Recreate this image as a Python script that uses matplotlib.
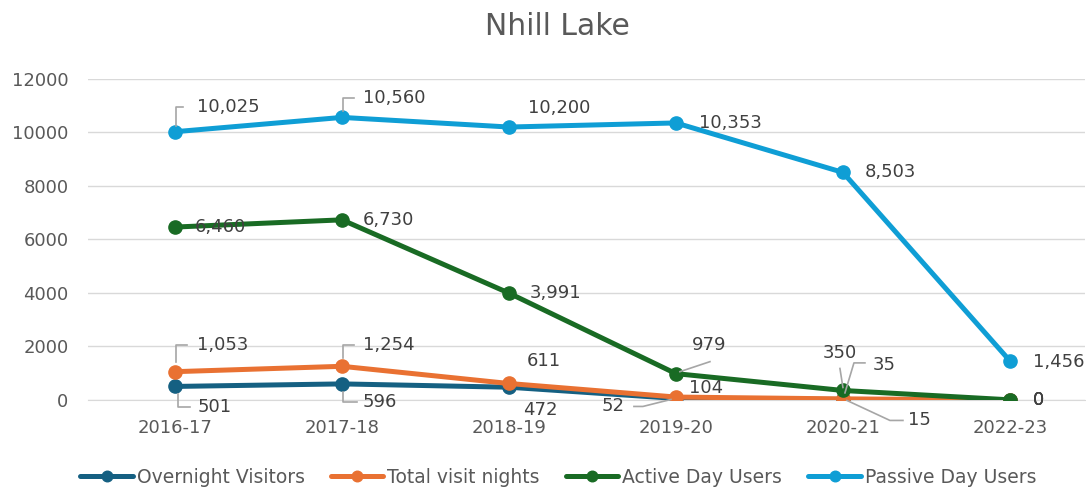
import matplotlib.pyplot as plt
import numpy as np

# chart data
years = ['2016-17', '2017-18', '2018-19', '2019-20', '2020-21', '2022-23']
overnight = [501, 596, 472, 52, 15, 0]
nights = [1053, 1254, 611, 104, 35, 0]
active = [6460, 6730, 3991, 979, 350, 0]
passive = [10025, 10560, 10200, 10353, 8503, 1456]

names = ['Overnight Visitors', 'Total visit nights', 'Active Day Users', 'Passive Day Users']
colors = ['#156082', '#E97132', '#196B24', '#0F9ED5']
series = [overnight, nights, active, passive]

# label placement in pixels from the point: (dx, dy, ha)
label_pos = {
    0: [(23, -21, 'left'), (21, -18, 'left'), (14, -23, 'left'), (-51, -8, 'right'),
        (65, -21, 'left'), (23, 0, 'left')],
    1: [(22, 27, 'left'), (21, 21, 'left'), (18, 22, 'left'), (13, 9, 'left'),
        (30, 34, 'left'), (23, 0, 'left')],
    2: [(20, 0, 'left'), (21, 0, 'left'), (21, 0, 'left'), (16, 29, 'left'),
        (-3, 37, 'center'), (23, 0, 'left')],
    3: [(22, 25, 'left'), (21, 19, 'left'), (19, 19, 'left'), (23, 0, 'left'),
        (22, 0, 'left'), (23, -1, 'left')],
}
# leader lines (pixel offsets from the point)
leaders = {
    (0, 0): [(15, -21), (3, -21), (3, -8)],
    (0, 1): [(15, -18), (1, -18), (1, -8)],
    (0, 3): [(-42, -8), (-33, -8), (-5, -1)],
    (0, 4): [(60, -21), (47, -21), (4, -1)],
    (1, 0): [(12, 27), (1, 27), (1, 10)],
    (1, 1): [(12, 21), (1, 21), (1, 8)],
    (1, 4): [(22, 36), (11, 36), (2, 6)],
    (2, 3): [(34, 12), (4, 2)],
    (2, 4): [(-3, 22), (0, 3)],
    (3, 0): [(8, 25), (1, 25), (1, 6)],
    (3, 1): [(12, 19), (1, 19), (1, 6)],
}

fig = plt.figure(figsize=(10.86, 4.9), dpi=100)
ax = fig.add_axes([0.081, 0.184, 0.918, 0.655])
x = np.arange(len(years))
ax.set_xlim(-0.521, 5.449)
ax.set_ylim(0, 12000)

for k, (vals, name, c) in enumerate(zip(series, names, colors)):
    ax.plot(x, vals, color=c, lw=3.6, marker='o', ms=9.5, label=name,
            solid_capstyle='round', zorder=3 + k)

for k, vals in enumerate(series):
    for i, v in enumerate(vals):
        dx, dy, ha = label_pos[k][i]
        ax.annotate(f'{v:,}', (i, v), xytext=(dx, dy), textcoords='offset pixels',
                    ha=ha, va='center', fontsize=13, color='#404040', zorder=10)
        if (k, i) in leaders:
            px, py = ax.transData.transform((i, v))
            pts = [ax.transData.inverted().transform((px + a, py + b))
                   for a, b in leaders[(k, i)]]
            ax.plot([p[0] for p in pts], [p[1] for p in pts], color='#a6a6a6',
                    lw=1.2, zorder=9, clip_on=False)

ax.set_yticks(range(0, 12001, 2000))
ax.set_xticks(x)
ax.set_xticklabels(years)
ax.tick_params(axis='both', length=0, labelsize=13, labelcolor='#595959')
ax.tick_params(axis='y', pad=14)
ax.tick_params(axis='x', pad=14)
ax.grid(axis='y', color='#d9d9d9', lw=1)
ax.set_axisbelow(True)
for s in ['top', 'right', 'left']:
    ax.spines[s].set_visible(False)
ax.spines['bottom'].set_color('#d9d9d9')

fig.text(0.513, 0.945, 'Nhill Lake', ha='center', va='center', fontsize=21.5, color='#595959')
fig.legend(loc='center', bbox_to_anchor=(0.514, 0.0265), ncol=4, frameon=False,
           fontsize=13.5, labelcolor='#595959', handlelength=2.8, columnspacing=1.4,
           handletextpad=0.2, markerscale=0.8)

fig.savefig('out.png', dpi=100)
